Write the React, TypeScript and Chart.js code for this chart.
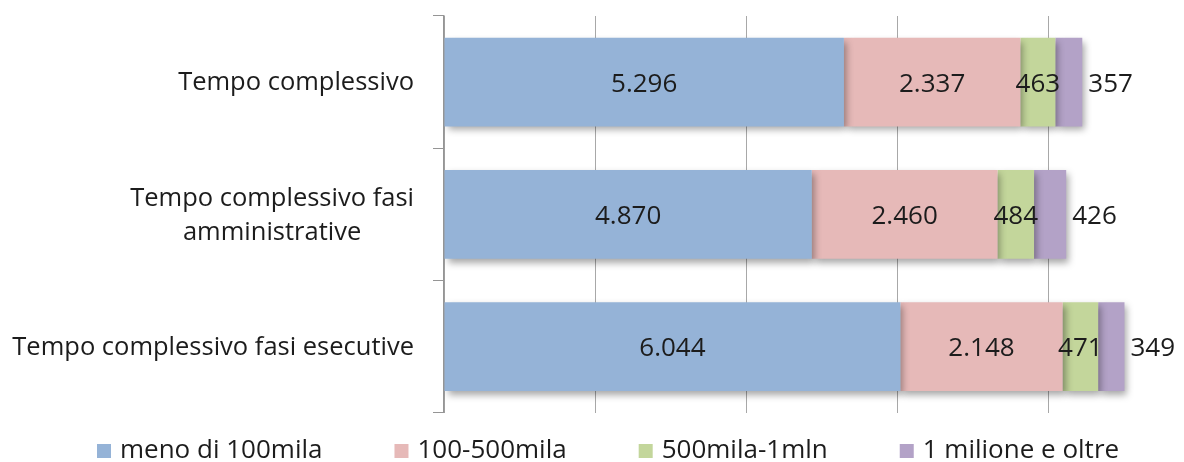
import React, { useEffect, useRef } from "react";
import { Chart, registerables } from "chart.js";
Chart.register(...registerables);

const categories: string[][] = [
  ["Tempo complessivo"],
  ["Tempo complessivo fasi", "amministrative"],
  ["Tempo complessivo fasi esecutive"],
];
const seriesNames = ["meno di 100mila", "100-500mila", "500mila-1mln", "1 milione e oltre"];
const lessThan100k = [5296, 4870, 6044];
const from100to500k = [2337, 2460, 2148];
const from500kTo1m = [463, 484, 471];
const over1m = [357, 426, 349];
const seriesColors = ["#95B3D7", "#E6B9B8", "#C3D69B", "#B3A2C7"];
const gridValues = [0, 2000, 4000, 6000, 8000];
const xMax = 9800;

const FONT = "'Open Sans', sans-serif";
const TEXT_COLOR = "#1c1c1c";
const GRID_COLOR = "#a8a8a8";
const AXIS_COLOR = "#959595";

function fmt(v: number): string {
  return String(v).replace(/\B(?=(\d{3})+(?!\d))/g, ".");
}

const shadowPlugin = {
  id: "barShadow",
  beforeDatasetsDraw(chart: any) {
    const ctx = chart.ctx;
    ctx.save();
    ctx.shadowColor = "rgba(0,0,0,0.35)";
    ctx.shadowBlur = 7;
    ctx.shadowOffsetX = 3;
    ctx.shadowOffsetY = 4;
  },
  afterDatasetsDraw(chart: any) {
    chart.ctx.restore();
  },
};

const valueLabelPlugin = {
  id: "valueLabels",
  afterDatasetsDraw(chart: any) {
    const ctx = chart.ctx;
    ctx.save();
    ctx.font = `26px ${FONT}`;
    ctx.fillStyle = TEXT_COLOR;
    ctx.textBaseline = "middle";
    const last = chart.data.datasets.length - 1;
    chart.data.datasets.forEach((ds: any, di: number) => {
      const meta = chart.getDatasetMeta(di);
      meta.data.forEach((bar: any, i: number) => {
        const v = ds.data[i] as number;
        const { x, y, base } = bar.getProps(["x", "y", "base"], true);
        if (di === last) {
          ctx.textAlign = "left";
          ctx.fillText(fmt(v), x + 6, y + 2);
        } else {
          ctx.textAlign = "center";
          ctx.fillText(fmt(v), (x + base) / 2, y + 2);
        }
      });
    });
    ctx.restore();
  },
};

const categoryLabelPlugin = {
  id: "categoryLabels",
  afterDraw(chart: any) {
    const ctx = chart.ctx;
    const yScale = chart.scales.y;
    ctx.save();
    ctx.font = `25.5px ${FONT}`;
    ctx.fillStyle = TEXT_COLOR;
    ctx.textBaseline = "middle";
    ctx.textAlign = "center";
    const right = chart.chartArea.left - 30;
    const lineH = 34;
    categories.forEach((lines, i) => {
      const yc = yScale.getPixelForValue(i);
      const maxW = Math.max(...lines.map((l) => ctx.measureText(l).width));
      const cx = right - maxW / 2;
      const top = yc - ((lines.length - 1) * lineH) / 2;
      lines.forEach((l, j) => ctx.fillText(l, cx, top + j * lineH + 1));
    });
    ctx.restore();
  },
};

const legendPlugin = {
  id: "customLegend",
  afterDraw(chart: any) {
    const ctx = chart.ctx;
    ctx.save();
    ctx.font = `26px ${FONT}`;
    ctx.textBaseline = "middle";
    ctx.textAlign = "left";
    const box = 14;
    const gapBoxText = 9;
    const widths = seriesNames.map((n) => box + gapBoxText + ctx.measureText(n).width);
    const gapItems = 72;
    let x = 97;
    const yc = 451;
    seriesNames.forEach((n, i) => {
      ctx.fillStyle = seriesColors[i];
      ctx.fillRect(x, yc - box / 2, box, box);
      ctx.fillStyle = TEXT_COLOR;
      ctx.fillText(n, x + box + gapBoxText, yc);
      x += widths[i] + gapItems;
    });
    ctx.restore();
  },
};

export default function App() {
  const ref = useRef<HTMLCanvasElement | null>(null);
  useEffect(() => {
    if (!ref.current) return;
    const seriesData = [lessThan100k, from100to500k, from500kTo1m, over1m];
    const chart = new Chart(ref.current, {
      type: "bar",
      data: {
        labels: categories.map((c) => c.join(" ")),
        datasets: seriesNames.map((name, i) => ({
          label: name,
          data: seriesData[i],
          backgroundColor: seriesColors[i],
          borderWidth: 0,
          barPercentage: 0.67,
          categoryPercentage: 1,
        })),
      },
      options: {
        indexAxis: "y",
        responsive: false,
        animation: false,
        layout: { padding: { top: 16, bottom: 48, left: 0, right: 0 } },
        plugins: {
          legend: { display: false },
          tooltip: { enabled: false },
        },
        scales: {
          x: {
            type: "linear",
            position: "bottom",
            stacked: true,
            min: 0,
            max: xMax,
            afterBuildTicks: (s: any) => {
              s.ticks = gridValues.map((v) => ({ value: v }));
            },
            ticks: {
              display: true,
              color: "rgba(0,0,0,0)",
              font: { size: 1 },
              padding: 0,
              callback: () => "",
            },
            grid: {
              display: true,
              drawOnChartArea: true,
              drawTicks: false,
              color: GRID_COLOR,
              lineWidth: 1,
            },
            border: { display: false },
          },
          y: {
            stacked: true,
            ticks: { display: false },
            grid: {
              offset: true,
              drawOnChartArea: false,
              drawTicks: true,
              tickLength: 11,
              color: AXIS_COLOR,
            },
            border: { display: true, color: AXIS_COLOR, width: 1.5 },
            afterFit: (s: any) => {
              s.width = 444;
            },
          },
        },
      },
      plugins: [shadowPlugin, valueLabelPlugin, categoryLabelPlugin, legendPlugin],
    });
    return () => chart.destroy();
  }, []);
  return (
    <div style={{ position: "fixed", left: 0, top: 0, width: 1184, height: 462, background: "#fff" }}>
      <canvas ref={ref} width={1184} height={462} style={{ display: "block" }} />
    </div>
  );
}
